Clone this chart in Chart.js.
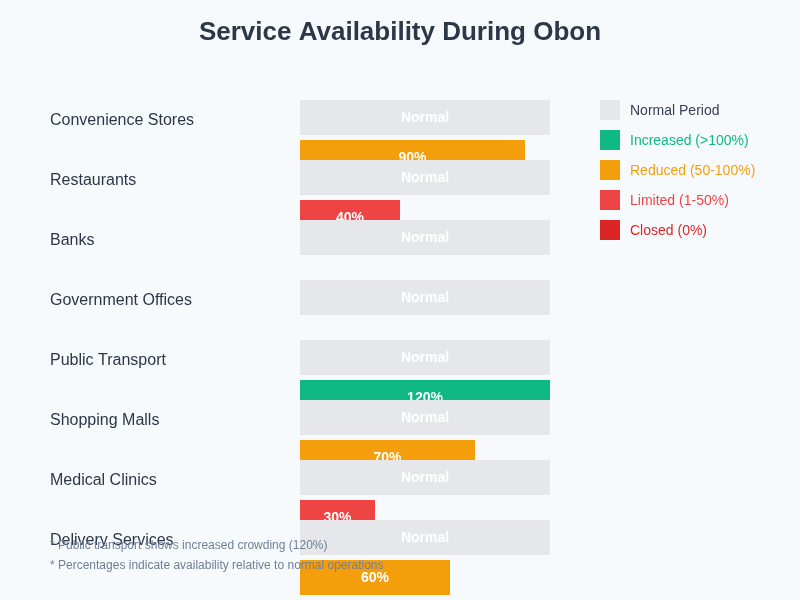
<!DOCTYPE html>
<html>
<head>
<meta charset="utf-8">
<script src="https://cdn.jsdelivr.net/npm/chart.js@4.4.0/dist/chart.umd.min.js"></script>
<style>
  html, body { margin: 0; padding: 0; background: #f7fafc; }
  #wrap { width: 800px; height: 600px; position: relative; }
</style>
</head>
<body>
<div id="wrap"><canvas id="c" width="800" height="600"></canvas></div>
<script>
const categories = ['Convenience Stores', 'Restaurants', 'Banks', 'Government Offices', 'Public Transport', 'Shopping Malls', 'Medical Clinics', 'Delivery Services'];
const normalValues = [100, 100, 100, 100, 100, 100, 100, 100];
const obonValues = [90, 40, 0, 0, 120, 70, 30, 60];
const legendLabels = ['Normal Period', 'Increased (>100%)', 'Reduced (50-100%)', 'Limited (1-50%)', 'Closed (0%)'];
const legendColors = ['#e5e7eb', '#10b981', '#f59e0b', '#ef4444', '#dc2626'];
const legendTextColors = ['#374151', '#10b981', '#f59e0b', '#ef4444', '#dc2626'];
const footnotes = ['* Public transport shows increased crowding (120%)', '* Percentages indicate availability relative to normal operations'];
const titleText = 'Service Availability During Obon';

const FONT = '"Liberation Sans", Arial, Helvetica, sans-serif';

function statusColor(v) {
  if (v > 100) return legendColors[1];
  if (v >= 50) return legendColors[2];
  if (v > 0) return legendColors[3];
  return legendColors[4];
}

const barLabels = {
  id: 'barLabels',
  afterDatasetDraw(chart, args) {
    const ctx = chart.ctx;
    const area = chart.chartArea;
    const meta = args.meta;
    const ds = chart.data.datasets[args.index];
    ctx.save();
    ctx.fillStyle = '#ffffff';
    ctx.font = 'bold 14px ' + FONT;
    ctx.textAlign = 'center';
    ctx.textBaseline = 'middle';
    meta.data.forEach((el, i) => {
      const v = ds.data[i];
      if (!v) return;
      const right = Math.min(el.x, area.right);
      const cx = (el.base + right) / 2;
      const txt = args.index === 0 ? 'Normal' : v + '%';
      ctx.fillText(txt, cx, el.y + 1);
    });
    ctx.restore();
  }
};

const overlay = {
  id: 'overlay',
  afterDraw(chart) {
    const ctx = chart.ctx;
    ctx.save();
    // title
    ctx.font = 'bold 26px ' + FONT;
    ctx.fillStyle = '#2d3748';
    ctx.textAlign = 'center';
    ctx.textBaseline = 'middle';
    ctx.fillText(titleText, 400, 32.5);
    // legend
    ctx.font = '14px ' + FONT;
    ctx.textAlign = 'left';
    legendLabels.forEach((lab, i) => {
      const y = 100 + i * 30;
      ctx.fillStyle = legendColors[i];
      ctx.fillRect(600, y, 20, 20);
      ctx.fillStyle = legendTextColors[i];
      ctx.fillText(lab, 630, y + 11);
    });
    // footnotes
    ctx.font = '12px ' + FONT;
    ctx.fillStyle = '#718096';
    footnotes.forEach((t, i) => {
      ctx.fillText(t, 50, 546 + i * 20);
    });
    ctx.restore();
  }
};

new Chart(document.getElementById('c'), {
  type: 'bar',
  data: {
    labels: categories,
    datasets: [
      {
        label: 'Normal Period',
        data: normalValues,
        backgroundColor: legendColors[0],
        categoryPercentage: 80 / 60,
        barPercentage: 0.875,
        clip: { left: false, top: false, right: 0, bottom: false }
      },
      {
        label: 'During Obon',
        data: obonValues,
        backgroundColor: obonValues.map(statusColor),
        categoryPercentage: 80 / 60,
        barPercentage: 0.875,
        clip: { left: false, top: false, right: 0, bottom: false }
      }
    ]
  },
  options: {
    indexAxis: 'y',
    responsive: false,
    animation: false,
    layout: { padding: { left: 50, right: 250, top: 107.5, bottom: 12.5 } },
    scales: {
      x: { display: false, min: 0, max: 100 },
      y: {
        grid: { display: false },
        border: { display: false },
        afterFit(scale) { scale.width = 250; },
        ticks: {
          crossAlign: 'far',
          labelOffset: -17,
          color: '#2d3748',
          font: { size: 16, family: FONT }
        }
      }
    },
    plugins: {
      legend: { display: false },
      tooltip: { enabled: false },
      title: { display: false }
    }
  },
  plugins: [barLabels, overlay]
});
</script>
</body>
</html>
